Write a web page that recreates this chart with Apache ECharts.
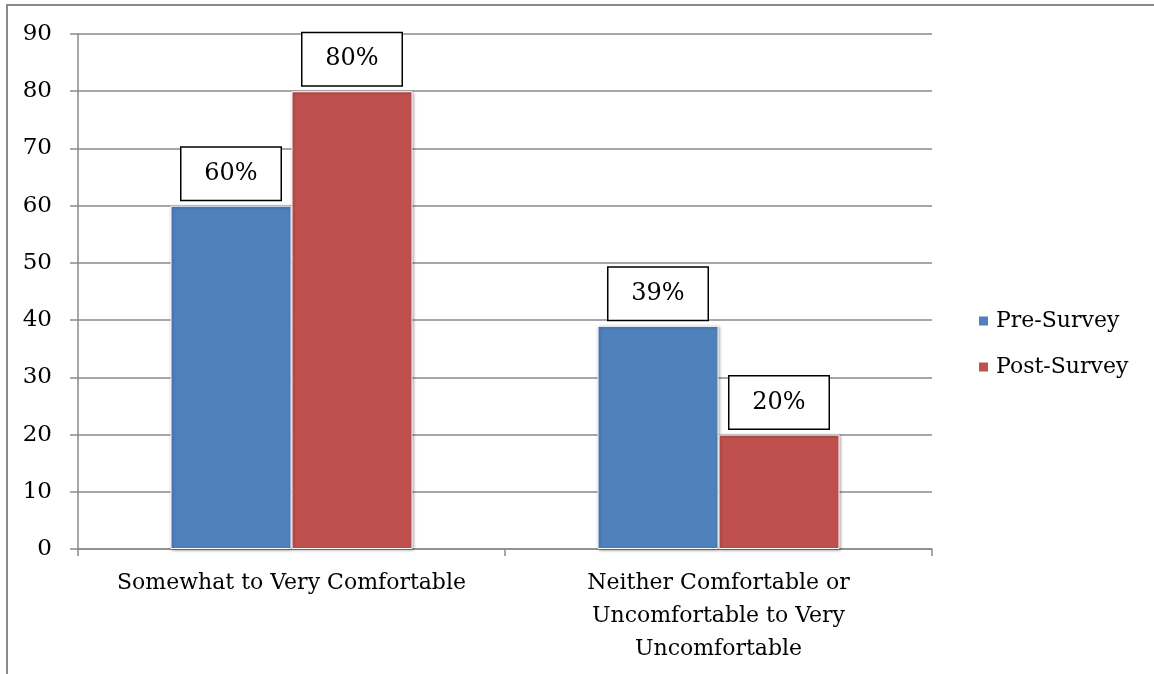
<!DOCTYPE html>
<html>
<head>
<meta charset="utf-8">
<script src="https://cdn.jsdelivr.net/npm/echarts@6/dist/echarts.min.js"></script>
<style>
  html, body { margin: 0; padding: 0; background: #fff; }
  #chart { width: 1154px; height: 674px; }
</style>
</head>
<body>
<div id="chart"></div>
<script>
// Comfort level, pre vs post survey (percent of respondents)
const categories = [
  'Somewhat to Very Comfortable',
  'Neither Comfortable or\nUncomfortable to Very\nUncomfortable'
];
const preSurvey = [60, 39];
const postSurvey = [80, 20];
const seriesNames = ['Pre-Survey', 'Post-Survey'];
const yTicks = { min: 0, max: 90, interval: 10 };

const FONT = 'DejaVu Serif';
const GRID_COLOR = '#8a8a8a';

const valueLabel = {
  show: true,
  position: 'top',
  distance: 6,
  formatter: '{c}%',
  fontFamily: FONT,
  fontSize: 24,
  color: '#000',
  backgroundColor: '#fff',
  borderColor: '#000',
  borderWidth: 1.5,
  width: 99,
  height: 52,
  lineHeight: 52,
  align: 'center'
};

const barStyle = (color) => ({
  color: color,
  borderColor: '#fff',
  borderWidth: 1,
  shadowColor: 'rgba(0,0,0,0.35)',
  shadowBlur: 3,
  shadowOffsetX: 1,
  shadowOffsetY: 1
});

const chart = echarts.init(document.getElementById('chart'), null, { renderer: 'canvas' });
chart.setOption({
  animation: false,
  backgroundColor: '#fff',
  graphic: [{
    type: 'rect',
    shape: { x: 7, y: 5, width: 1170, height: 690 },
    style: { fill: 'none', stroke: '#8a8a8a', lineWidth: 2 },
    silent: true
  }],
  grid: { left: 78, right: 222, top: 34, bottom: 125 },
  legend: {
    orient: 'vertical',
    left: 972,
    top: 305,
    itemWidth: 11,
    itemHeight: 11,
    itemGap: 24,
    icon: 'rect',
    textStyle: { fontFamily: FONT, fontSize: 22, color: '#000', padding: [0, 0, 0, 2] },
    data: seriesNames
  },
  xAxis: {
    type: 'category',
    data: categories,
    axisLine: { lineStyle: { color: GRID_COLOR, width: 1.5 } },
    axisTick: { show: true, length: 7, lineStyle: { color: GRID_COLOR, width: 1.5 } },
    axisLabel: {
      interval: 0,
      fontFamily: FONT,
      fontSize: 22,
      color: '#000',
      lineHeight: 33,
      margin: 18,
      align: 'center'
    }
  },
  yAxis: {
    type: 'value',
    min: yTicks.min,
    max: yTicks.max,
    interval: yTicks.interval,
    axisLine: { show: true, lineStyle: { color: GRID_COLOR, width: 1.5 } },
    axisTick: { show: true, length: 8, lineStyle: { color: GRID_COLOR, width: 1.5 } },
    splitLine: { lineStyle: { color: GRID_COLOR, width: 1.5 } },
    axisLabel: {
      fontFamily: FONT,
      fontSize: 23,
      color: '#000',
      margin: 26
    }
  },
  series: [
    {
      name: seriesNames[0],
      type: 'bar',
      data: preSurvey,
      barWidth: 121,
      barGap: '0%',
      itemStyle: barStyle('#4f81bd'),
      label: valueLabel
    },
    {
      name: seriesNames[1],
      type: 'bar',
      data: postSurvey,
      barWidth: 121,
      barGap: '0%',
      itemStyle: barStyle('#c0504d'),
      label: valueLabel
    }
  ]
});
</script>
</body>
</html>
